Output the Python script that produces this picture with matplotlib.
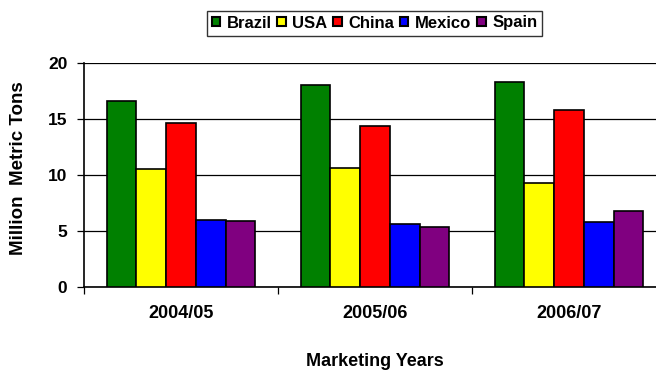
import matplotlib
matplotlib.use('Agg')
import matplotlib.pyplot as plt
import numpy as np

plt.rcParams['font.family'] = ['Liberation Sans', 'DejaVu Sans']
plt.rcParams['font.weight'] = 'bold'

years = ['2004/05', '2005/06', '2006/07']
countries = ['Brazil', 'USA', 'China', 'Mexico', 'Spain']
brazil = [16.6, 18.0, 18.3]
usa = [10.5, 10.6, 9.3]
china = [14.6, 14.4, 15.8]
mexico = [6.0, 5.6, 5.8]
spain = [5.9, 5.4, 6.8]
colors = ['#008000', '#FFFF00', '#FF0000', '#0000FF', '#800080']

fig = plt.figure(figsize=(6.56, 3.70), dpi=100)
# plot area runs a little past the right edge of the figure
ax = fig.add_axes([84 / 656, 83 / 370, 582 / 656, 224 / 370])

x = np.arange(len(years))
w = 0.153
series = [brazil, usa, china, mexico, spain]
for i, (vals, c, name) in enumerate(zip(series, colors, countries)):
    ax.bar(x + (i - 2) * w, vals, w, color=c, edgecolor='black', linewidth=1.2,
           label=name, zorder=3)

ax.set_xlim(-0.5, 2.5)
ax.set_ylim(0, 20)
ax.set_yticks([0, 5, 10, 15, 20])
ax.grid(axis='y', color='black', linewidth=0.9, zorder=0)
ax.set_xticks(x)
ax.set_xticklabels(years, fontsize=13, fontweight='bold')
ax.set_xticks([-0.5, 0.5, 1.5, 2.5], minor=True)
ax.tick_params(axis='x', which='major', length=0, pad=13)
ax.tick_params(axis='x', which='minor', length=5, direction='out', width=0.9)
ax.tick_params(axis='y', length=5, direction='out', width=0.9, labelsize=12.5, pad=7)
for t in ax.get_yticklabels():
    t.set_fontweight('bold')
for s in ['top', 'right']:
    ax.spines[s].set_visible(False)
for s in ['left', 'bottom']:
    ax.spines[s].set_linewidth(1.2)

fig.text(18.5 / 656, (370 - 168) / 370, 'Million  Metric Tons',
         rotation=90, ha='center', va='center', fontsize=13.5, fontweight='bold')
fig.text(375 / 656, 4 / 370, 'Marketing Years', ha='center', va='baseline',
         fontsize=13, fontweight='bold')

leg = fig.legend(loc='center', bbox_to_anchor=(374.5 / 656, (370 - 23) / 370), ncol=5,
                 fontsize=12, frameon=True, fancybox=False, edgecolor='black',
                 handlelength=0.5, handleheight=0.5, handletextpad=0.4,
                 columnspacing=0.35, borderpad=0.3, borderaxespad=0)
leg.get_frame().set_linewidth(1.0)
for h in leg.legend_handles:
    h.set_linewidth(1.5)

fig.savefig('out.png', dpi=100)
